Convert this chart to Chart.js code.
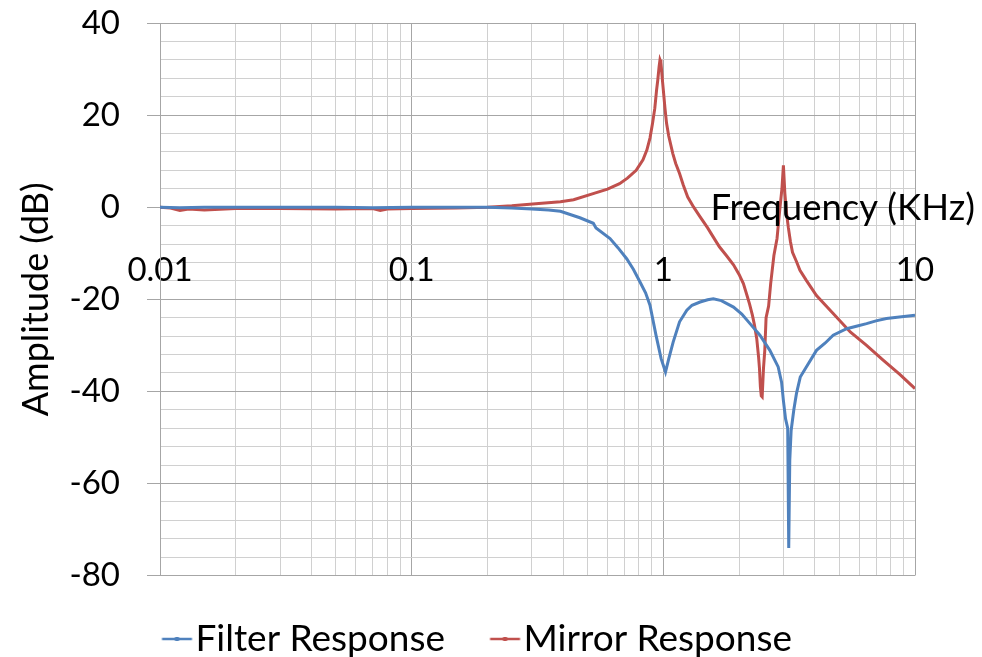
<!DOCTYPE html>
<html>
<head>
<meta charset="utf-8">
<script src="https://cdn.jsdelivr.net/npm/chart.js@4/dist/chart.umd.min.js"></script>
<style>
  html, body { margin: 0; padding: 0; background: #fff; }
  #wrap { width: 982px; height: 657px; }
</style>
</head>
<body>
<div id="wrap"><canvas id="chart"></canvas></div>
<script>
// frequencies in KHz, amplitudes in dB
const filterFreq = [0.01, 0.012, 0.015, 0.02, 0.03, 0.05, 0.07, 0.1, 0.15, 0.2,
  0.25, 0.3, 0.35, 0.39, 0.466, 0.527, 0.54, 0.614, 0.66, 0.715,
  0.76, 0.807, 0.85, 0.885, 0.935, 0.98, 1.02, 1.05, 1.094, 1.16,
  1.24, 1.3, 1.4, 1.5, 1.58, 1.7, 1.9, 2.05, 2.21, 2.42,
  2.65, 2.86, 2.95, 3.0, 3.06, 3.12, 3.15, 3.18, 3.22, 3.3,
  3.38, 3.5, 3.7, 4.06, 4.4, 4.73, 5.35, 5.9, 6.42, 7.0,
  7.7, 8.5, 10];
const filterDb = [0, -0.1, 0, 0, 0, 0, -0.1, 0, 0, 0,
  -0.2, -0.4, -0.6, -0.9, -2.3, -3.5, -4.5, -6.8, -8.8, -11.2,
  -13.5, -16.2, -18.6, -21.3, -27.8, -32.9, -35.8, -33.0, -29.3, -24.9,
  -22.4, -21.3, -20.6, -20.1, -19.9, -20.3, -21.7, -23.2, -25.3, -27.8,
  -31.1, -34.7, -38.0, -42.0, -46.0, -48.0, -74.0, -55.0, -48.5, -44.0,
  -40.5, -36.9, -34.7, -31.1, -29.5, -27.8, -26.4, -25.8, -25.3, -24.7,
  -24.2, -23.9, -23.5];

const mirrorFreq = [0.01, 0.011, 0.012, 0.013, 0.015, 0.02, 0.03, 0.05, 0.07, 0.075,
  0.08, 0.1, 0.15, 0.2, 0.25, 0.32, 0.39, 0.44, 0.53, 0.6,
  0.67, 0.72, 0.78, 0.83, 0.86, 0.885, 0.906, 0.925, 0.94, 0.95,
  0.962, 0.97, 0.978, 0.99, 1.0, 1.015, 1.03, 1.05, 1.09, 1.12,
  1.16, 1.2, 1.25, 1.32, 1.4, 1.5, 1.58, 1.67, 1.78, 1.9,
  2.0, 2.08, 2.14, 2.2, 2.26, 2.3, 2.35, 2.39, 2.41, 2.43,
  2.45, 2.47, 2.5, 2.53, 2.56, 2.62, 2.67, 2.75, 2.83, 2.9,
  2.96, 3.0, 3.04, 3.09, 3.14, 3.2, 3.26, 3.38, 3.49, 3.7,
  4.06, 4.73, 5.53, 6.42, 7.47, 8.7, 10];
const mirrorDb = [0, -0.2, -0.7, -0.4, -0.6, -0.3, -0.3, -0.4, -0.3, -0.7,
  -0.4, -0.3, -0.2, 0, 0.3, 0.8, 1.2, 1.6, 3.0, 3.9,
  5.1, 6.3, 8.0, 10.3, 12.4, 15.0, 18.2, 21.5, 25.4, 27.5,
  30.5, 32.0, 31.5, 28.0, 25.4, 21.5, 18.2, 15.5, 11.7, 9.5,
  7.3, 4.8, 2.2, 0, -2.1, -4.5, -6.5, -8.6, -10.5, -12.5,
  -14.6, -16.6, -18.8, -21.0, -23.5, -25.5, -28.5, -32.5, -35.0, -39.0,
  -41.0, -41.2, -35.0, -31.1, -24.0, -21.5, -16.6, -10.5, -6.8, -0.7,
  4.0, 9.1, 3.0, -1.5, -4.5, -7.5, -9.8, -11.8, -13.7, -15.9,
  -19.2, -23.1, -27.1, -30.0, -33.2, -36.3, -39.4];

const seriesNames = ['Filter Response', 'Mirror Response'];
const seriesColors = ['#4F81BD', '#C0504D'];
const xTickLabels = [0.01, 0.1, 1, 10];
const yMin = -80, yMax = 40, yMajorStep = 20, yMinorStep = 4;
const xTitle = 'Frequency (KHz)';
const yTitle = 'Amplitude (dB)';

const FONT = 'Lato, "Liberation Sans", sans-serif';
const majorGrid = '#A6A6A6';
const minorGrid = '#D0D0D0';

function toPoints(xs, ys) {
  return xs.map((x, i) => ({ x: x, y: ys[i] }));
}

// legend sample: short line with a small marker, offset so the text sits close
function legendIcon(color) {
  const c = document.createElement('canvas');
  c.width = 76; c.height = 12;
  const g = c.getContext('2d');
  g.strokeStyle = color;
  g.lineWidth = 2.5;
  g.beginPath();
  g.moveTo(30.5, 6);
  g.lineTo(60.5, 6);
  g.stroke();
  g.fillStyle = color;
  g.fillRect(43.5, 4, 4, 4);
  return c;
}
const legendIcons = seriesColors.map(legendIcon);

// vertical grid at 1..9 x 10^n
const xGrid = [];
for (let d = 0.01; d < 10; d *= 10) {
  for (let m = 1; m <= 9; m++) xGrid.push(Math.round(m * d * 1000) / 1000);
}
xGrid.push(10);

const xTitlePlugin = {
  id: 'xTitle',
  afterLayout(chart) {
    // nudge legend row to the right like the original
    chart.legend.left += 12;
    chart.legend.right += 12;
  },
  afterDraw(chart) {
    const ctx = chart.ctx;
    const y0 = chart.scales.y.getPixelForValue(0);
    ctx.save();
    ctx.font = '36.5px ' + FONT;
    ctx.fillStyle = '#000';
    ctx.textAlign = 'right';
    ctx.textBaseline = 'alphabetic';
    ctx.fillText(xTitle, chart.chartArea.right + 60, y0 + 13);
    ctx.restore();
  }
};

new Chart(document.getElementById('chart'), {
  type: 'line',
  data: {
    datasets: [
      { label: seriesNames[0], data: toPoints(filterFreq, filterDb), borderColor: seriesColors[0], backgroundColor: seriesColors[0], borderWidth: 3, pointRadius: 0, tension: 0 },
      { label: seriesNames[1], data: toPoints(mirrorFreq, mirrorDb), borderColor: seriesColors[1], backgroundColor: seriesColors[1], borderWidth: 3, pointRadius: 0, tension: 0 }
    ]
  },
  options: {
    responsive: true,
    maintainAspectRatio: false,
    animation: false,
    layout: { padding: { left: 15, right: 67, top: 0, bottom: -10.5 } },
    scales: {
      x: {
        type: 'logarithmic',
        position: { y: 0 },
        min: 0.01,
        max: 10,
        afterBuildTicks(scale) {
          scale.ticks = xGrid.map(v => ({ value: v }));
        },
        ticks: {
          autoSkip: false,
          maxRotation: 0,
          padding: 43,
          color: '#000',
          font: { family: FONT, size: 33 },
          callback: v => xTickLabels.includes(v) ? String(v) : ''
        },
        grid: {
          drawTicks: false,
          lineWidth: 1,
          color: c => xTickLabels.includes(c.tick && c.tick.value) ? majorGrid : minorGrid
        },
        border: { color: majorGrid }
      },
      y: {
        min: yMin,
        max: yMax,
        afterFit(scale) {
          scale.width = 145;
          scale.paddingTop = 23;
          scale.paddingBottom = 0;
        },
        ticks: {
          stepSize: yMinorStep,
          autoSkip: false,
          padding: 27,
          color: '#000',
          font: { family: FONT, size: 33 },
          callback: v => v % yMajorStep === 0 ? v : ''
        },
        grid: {
          tickLength: 13,
          lineWidth: 1,
          color: c => c.tick && c.tick.value % yMajorStep === 0 ? majorGrid : minorGrid,
          tickColor: c => c.tick && c.tick.value % yMajorStep === 0 ? majorGrid : 'rgba(0,0,0,0)'
        },
        border: { color: majorGrid },
        title: {
          display: true,
          text: yTitle,
          color: '#000',
          font: { family: FONT, size: 36 },
          padding: { top: 0, bottom: 12 }
        }
      }
    },
    plugins: {
      legend: {
        position: 'bottom',
        labels: {
          usePointStyle: true,
          pointStyleWidth: 15,
          padding: 45,
          color: '#000',
          font: { family: FONT, size: 37 },
          generateLabels(chart) {
            const items = Chart.defaults.plugins.legend.labels.generateLabels(chart);
            items.forEach((it, i) => { it.pointStyle = legendIcons[i]; });
            return items;
          }
        }
      },
      tooltip: { enabled: false }
    }
  },
  plugins: [xTitlePlugin]
});
</script>
</body>
</html>
